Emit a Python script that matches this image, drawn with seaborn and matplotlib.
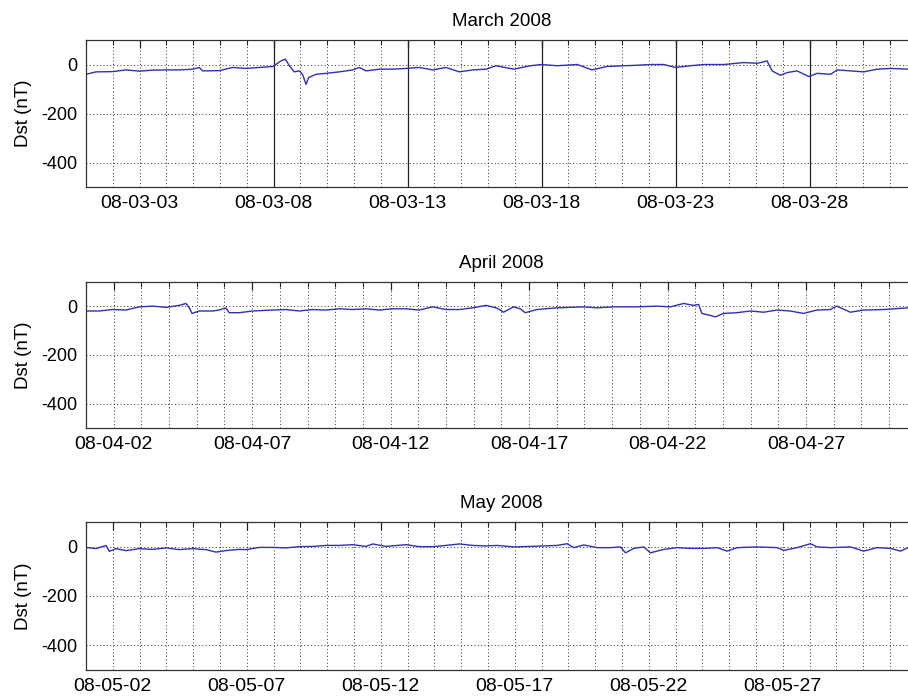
import numpy as np
import pandas as pd
import matplotlib
matplotlib.use('Agg')
import matplotlib.pyplot as plt
import matplotlib.dates as mdates
import seaborn as sns

#Dst readings (day of month, nT)
mar_day = [1.0, 1.37, 2.0, 2.49, 2.99, 3.49, 3.99, 4.48, 4.98, 5.23, 5.35, 5.98, 6.47, 6.97,
           7.47, 7.97, 8.28, 8.44, 8.59, 8.77, 8.96, 9.08, 9.21, 9.31, 9.58, 9.96, 10.45,
           10.95, 11.2, 11.45, 11.95, 12.44, 12.94, 13.44, 13.94, 14.43, 14.93, 15.43, 15.93,
           16.3, 16.96, 17.58, 18.0, 18.58, 19.33, 19.88, 20.44, 21.07, 21.56, 22.06, 22.56,
           23.0, 23.55, 24.05, 24.8, 25.54, 26.04, 26.29, 26.41, 26.6, 26.91, 27.16, 27.53,
           27.97, 28.28, 28.78, 29.03, 29.52, 30.02, 30.52, 31.02, 31.68, 32.0]
mar_dst = [-40, -30, -29, -22, -27, -23, -22, -22, -19, -12, -26, -25, -12, -16,
           -12, -8, 15, 22, -5, -30, -26, -40, -81, -53, -40, -36, -30,
           -22, -12, -26, -19, -19, -16, -12, -22, -12, -30, -22, -19,
           -5, -19, -5, 0, -5, 0, -22, -8, -5, -3, 0, 0,
           -12, -5, 0, 0, 8, 5, 11, 15, -26, -44, -33, -26,
           -49, -36, -40, -22, -26, -30, -19, -16, -19, -18]

apr_day = [1.0, 1.48, 1.96, 2.44, 2.93, 3.41, 3.89, 4.37, 4.61, 4.73, 4.83, 5.09, 5.57, 5.81,
           6.05, 6.17, 6.54, 7.02, 7.74, 8.22, 8.7, 9.18, 9.66, 10.15, 10.63, 11.11, 11.59,
           12.07, 12.55, 13.03, 13.52, 14.0, 14.48, 14.96, 15.44, 15.84, 16.08, 16.44, 16.68,
           16.86, 17.28, 18.0, 18.97, 19.45, 20.05, 20.89, 21.62, 22.1, 22.58, 22.94, 23.12,
           23.24, 23.54, 23.72, 24.02, 24.5, 24.99, 25.47, 25.95, 26.43, 26.91, 27.39, 27.87,
           28.11, 28.6, 29.08, 29.8, 30.68, 31.0]
apr_dst = [-20, -20, -14, -16, -3, 0, -5, 3, 11, -7, -30, -20, -20, -16,
           -7, -27, -27, -20, -16, -14, -20, -14, -16, -11, -14, -11, -16,
           -11, -11, -16, -3, -14, -14, -7, 3, -8, -25, -3, -11,
           -27, -14, -7, -3, -7, -3, -3, 0, -3, 11, 3, 7,
           -30, -38, -44, -30, -27, -20, -25, -16, -20, -30, -16, -14,
           0, -25, -16, -14, -7, -5]

may_day = [1.0, 1.37, 1.75, 1.87, 2.12, 2.49, 2.99, 3.49, 3.99, 4.48, 4.98, 5.48, 5.85, 6.22,
           6.72, 6.97, 7.47, 7.97, 8.46, 8.96, 9.46, 9.96, 10.45, 10.95, 11.45, 11.7, 12.19,
           12.94, 13.44, 13.94, 14.43, 14.93, 15.43, 15.93, 16.34, 16.96, 17.58, 18.58, 18.95,
           19.2, 19.57, 20.07, 20.57, 20.94, 21.13, 21.44, 21.81, 22.06, 22.56, 23.06, 23.55,
           24.05, 24.55, 24.92, 25.3, 26.04, 26.79, 27.04, 27.53, 28.03, 28.28, 28.78, 29.52,
           30.02, 30.52, 31.02, 31.39, 31.68, 32.0]
may_dst = [-3, -8, 5, -19, -8, -16, -8, -11, -5, -12, -8, -12, -22, -16,
           -11, -12, -3, -3, -5, 0, 1, 5, 5, 8, 1, 11, 1,
           8, 0, 0, 5, 11, 5, 3, 5, -1, 1, 5, 12,
           -4, 7, -4, -4, -1, -25, -7, -1, -25, -11, -4, -7,
           -7, -4, -18, -4, -1, -4, -15, -4, 12, -1, -4, -1,
           -18, -4, -7, -18, -4, -5]

months = ['2008-03-01', '2008-04-01', '2008-05-01']
month_ends = ['2008-04-01', '2008-05-01', '2008-06-01']
titles = ['March 2008', 'April 2008', 'May 2008']
label_days = [[3, 8, 13, 18, 23, 28], [2, 7, 12, 17, 22, 27], [2, 7, 12, 17, 22, 27]]
#solid day lines only drawn in the March panel
march_markers = ['2008-03-08', '2008-03-13', '2008-03-18', '2008-03-23', '2008-03-28']

sns.set_style('white')
plt.rcParams['font.family'] = ['Liberation Sans', 'DejaVu Sans']
plt.rcParams['font.size'] = 13
plt.rcParams['axes.unicode_minus'] = False
plt.rcParams['text.color'] = 'black'
plt.rcParams['axes.labelcolor'] = 'black'

fig = plt.figure(figsize=(9.08, 6.96), dpi=100)
positions = [[0.0947, 0.7313, 0.915, 0.2112],
             [0.0947, 0.3850, 0.915, 0.2102],
             [0.0947, 0.0374, 0.915, 0.2126]]

series = [(mar_day, mar_dst), (apr_day, apr_dst), (may_day, may_dst)]

for i, (days, dst) in enumerate(series):
    ax = fig.add_axes(positions[i])
    start = pd.Timestamp(months[i])
    df = pd.DataFrame({
        'time': start + pd.to_timedelta(np.array(days) - 1, unit='D'),
        'Dst': dst,
    })
    sns.lineplot(data=df, x='time', y='Dst', ax=ax, color='#3030b0', linewidth=1.0)

    if i == 0:
        for d in march_markers:
            ax.axvline(pd.Timestamp(d), color='#222222', linewidth=0.9, zorder=1)

    ax.set_xlim(start, pd.Timestamp(month_ends[i]))
    ax.set_ylim(-500, 100)
    ax.set_yticks([-400, -200, 0])

    ax.xaxis.set_major_locator(mdates.DayLocator(bymonthday=label_days[i]))
    ax.xaxis.set_minor_locator(mdates.DayLocator())
    ax.xaxis.set_major_formatter(mdates.DateFormatter('%y-%m-%d'))

    #matlab style dotted grid on every day
    ax.grid(True, which='both', axis='x', linestyle=(0, (1, 2.5)), color='#333333', linewidth=0.7)
    ax.grid(True, which='major', axis='y', linestyle=(0, (1, 2.5)), color='#333333', linewidth=0.7)
    ax.tick_params(which='both', direction='in', top=True, right=True, colors='#222222',
                   labelcolor='black', labelsize=13)
    ax.tick_params(axis='x', labelsize=14)
    ax.tick_params(which='major', length=6, width=0.9, pad=6)
    ax.tick_params(which='minor', length=3.5, width=0.8)
    for s in ax.spines.values():
        s.set_color('#333333')
        s.set_linewidth(0.9)

    ax.set_title(titles[i], fontsize=13.5, pad=10, color='black')
    ax.set_xlabel('')
    ax.set_ylabel('Dst (nT)', fontsize=13.5, labelpad=7)

fig.savefig('out.png', dpi=100)
